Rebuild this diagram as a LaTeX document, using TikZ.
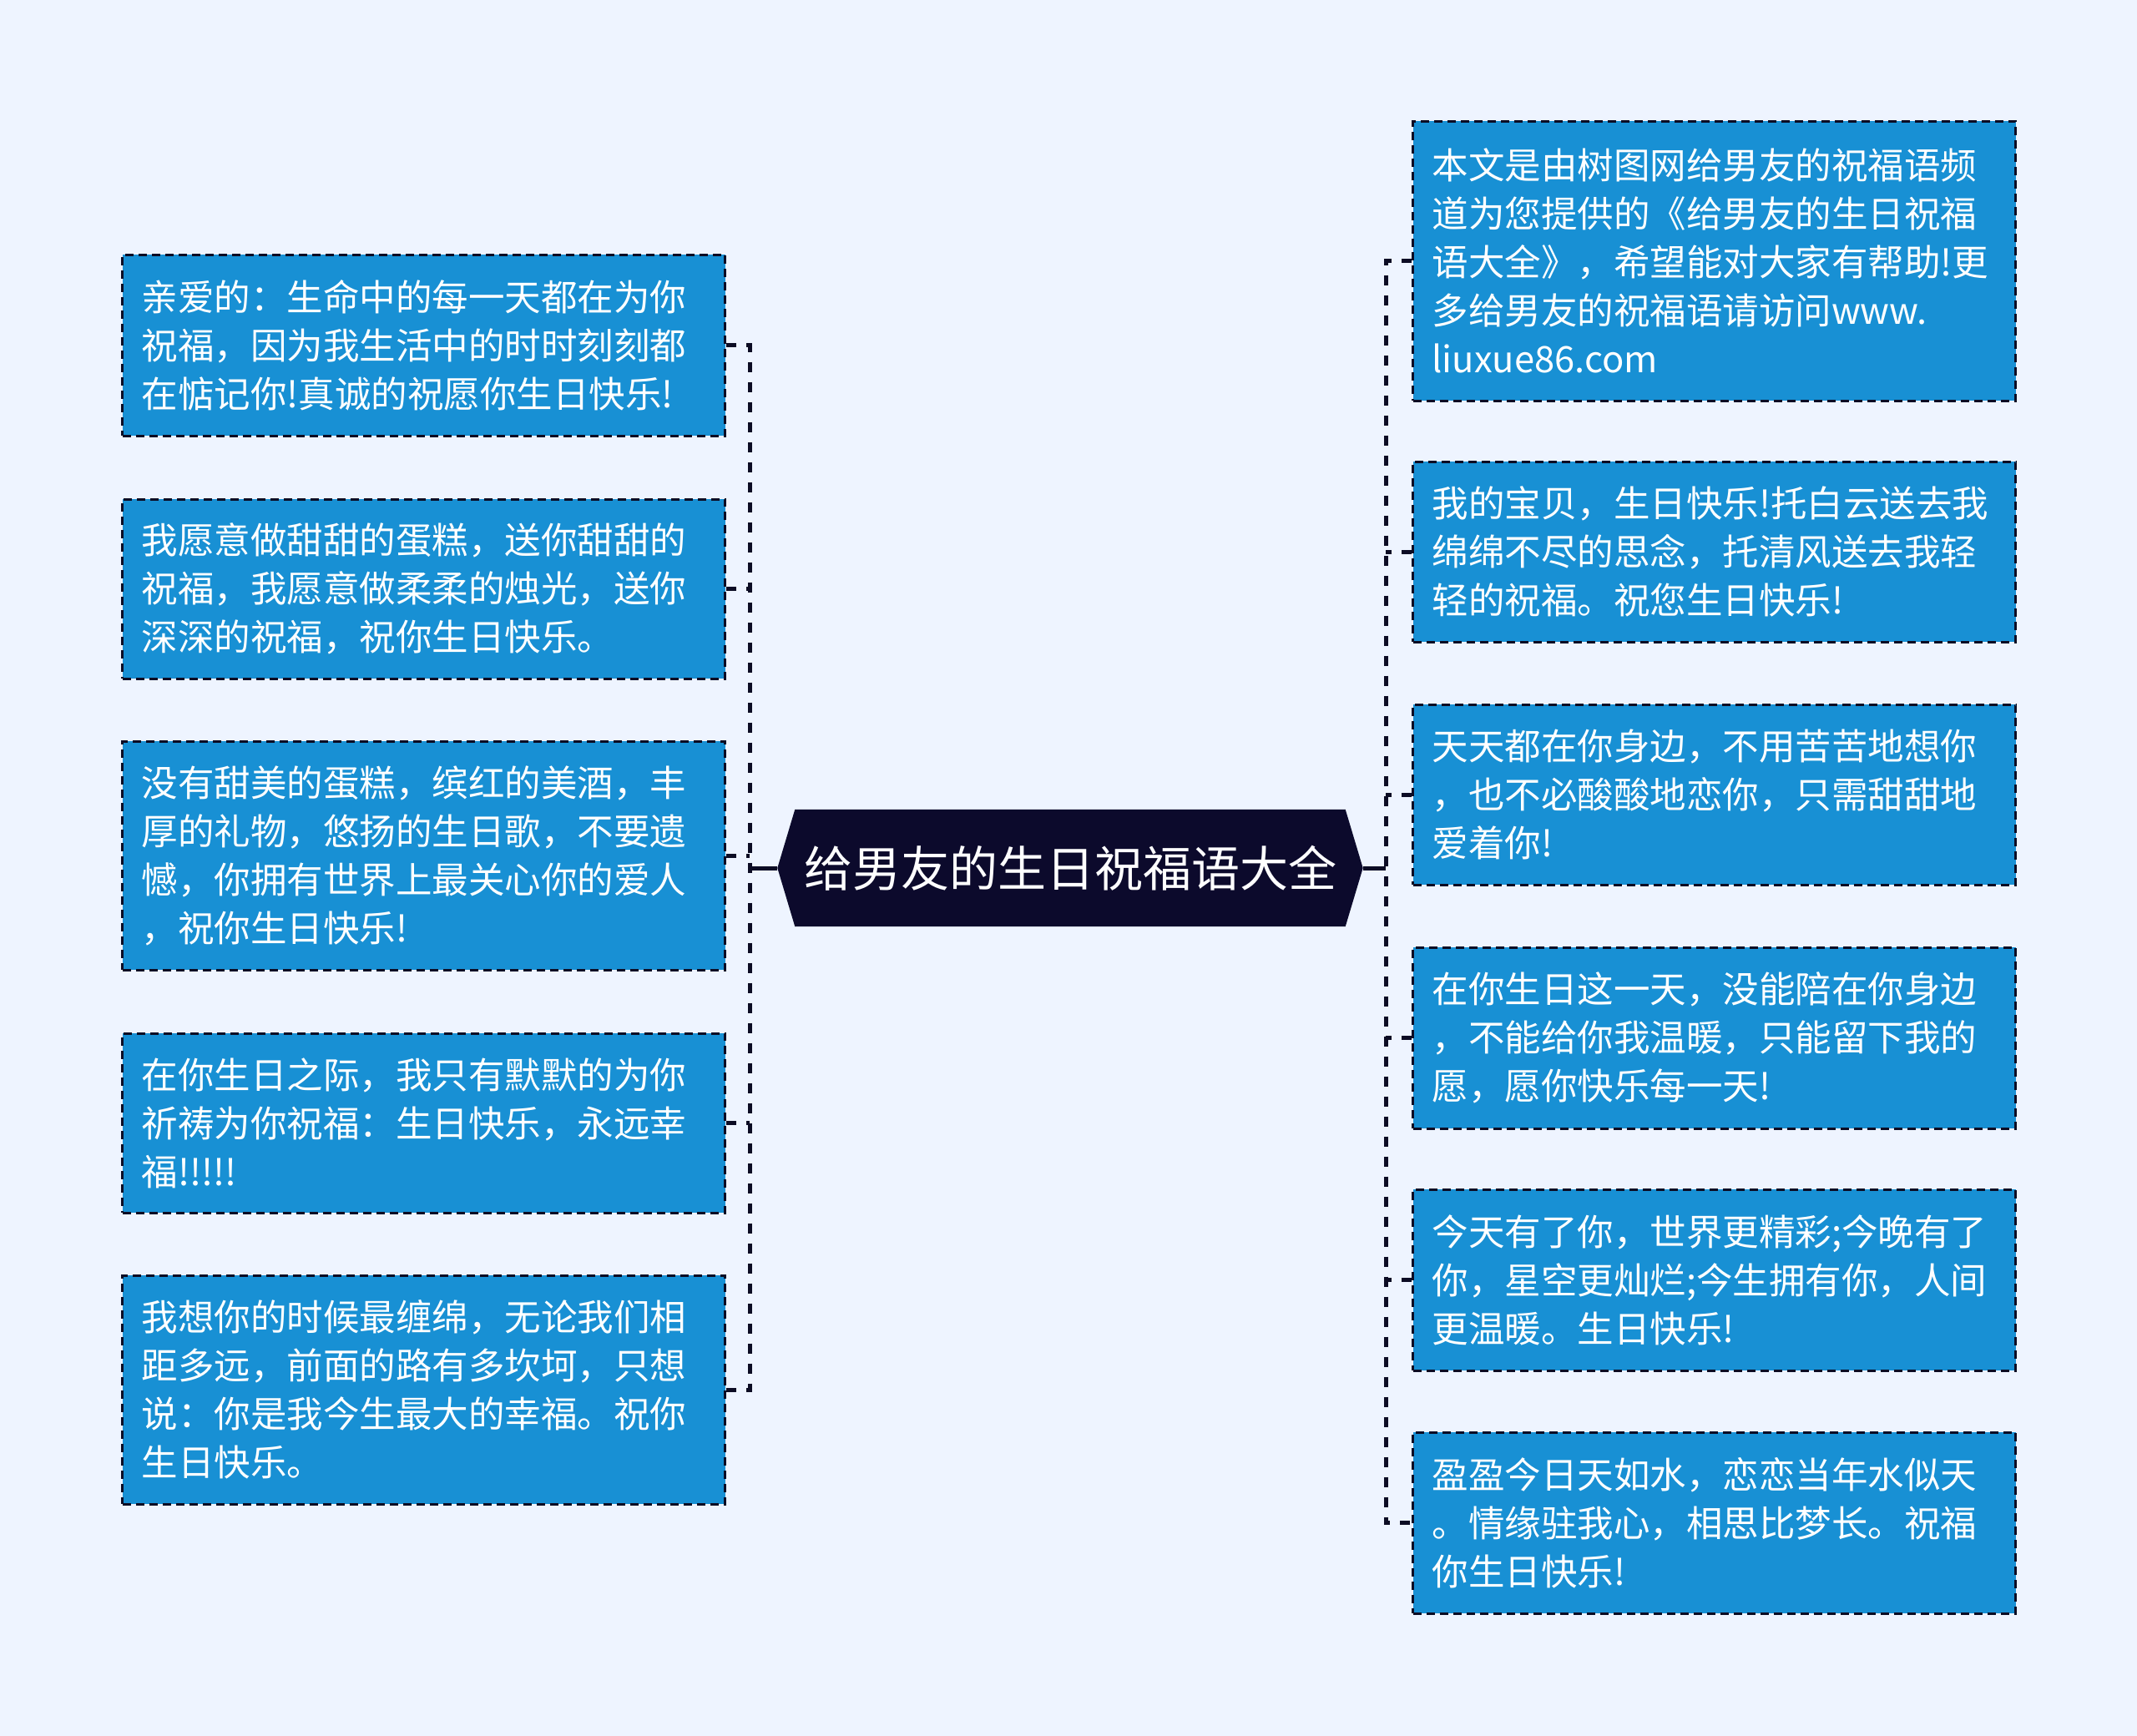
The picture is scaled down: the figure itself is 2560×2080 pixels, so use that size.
\documentclass[tikz,border=0pt]{standalone}
\usepackage{fontspec}
\setmainfont{Noto Sans CJK SC}
\usetikzlibrary{backgrounds}
\definecolor{bg}{HTML}{EEF4FF}
\definecolor{boxblue}{HTML}{1890D4}
\definecolor{navy}{HTML}{0C0A2C}
\definecolor{edge}{HTML}{0C0C24}
\begin{document}
\begin{tikzpicture}[x=1pt,y=-1pt,
  card/.style={draw=edge, line width=3pt, dash pattern=on 10pt off 6pt, fill=boxblue, text=white,
    anchor=west, text width=676pt, inner xsep=23pt, inner ysep=0pt, align=left,
    font=\fontsize{43.5}{58}\selectfont},
  conn/.style={draw=edge, line width=5pt, dash pattern=on 12pt off 12pt},
  stem/.style={draw=edge, line width=5pt}]
\useasboundingbox (0,0) rectangle (2560,2080);
\begin{scope}[on background layer]
  \fill[bg] (0,0) rectangle (2560,2080);
\end{scope}

% center
\node[text=white, font=\fontsize{58}{70}\selectfont, minimum width=659pt, minimum height=140pt, inner sep=0pt] (center) at (1282,1040) {给男友的生日祝福语大全};
\coordinate (cl) at ([xshift=-21pt]center.west);
\coordinate (cr) at ([xshift=21pt]center.east);
\begin{scope}[on background layer]
  \fill[navy] (center.north west) -- (center.north east) -- (cr) -- (center.south east) -- (center.south west) -- (cl) -- cycle;
\end{scope}

% left cards
\node[card, minimum height=217pt] (L1) at (145,413.5) {亲爱的：生命中的每一天都在为你\\祝福，因为我生活中的时时刻刻都\\在惦记你!真诚的祝愿你生日快乐!};
\node[card, minimum height=215pt] (L2) at (145,705.5) {我愿意做甜甜的蛋糕，送你甜甜的\\祝福，我愿意做柔柔的烛光，送你\\深深的祝福，祝你生日快乐。};
\node[card, minimum height=274pt] (L3) at (145,1025) {没有甜美的蛋糕，缤红的美酒，丰\\厚的礼物，悠扬的生日歌，不要遗\\憾，你拥有世界上最关心你的爱人\\，祝你生日快乐!};
\node[card, minimum height=215pt] (L4) at (145,1345.5) {在你生日之际，我只有默默的为你\\祈祷为你祝福：生日快乐，永远幸\\福!!!!!};
\node[card, minimum height=274pt] (L5) at (145,1665) {我想你的时候最缠绵，无论我们相\\距多远，前面的路有多坎坷，只想\\说：你是我今生最大的幸福。祝你\\生日快乐。};

% right cards
\node[card, minimum height=335pt] (R1) at (1691,312.5) {本文是由树图网给男友的祝福语频\\道为您提供的《给男友的生日祝福\\语大全》，希望能对大家有帮助!更\\多给男友的祝福语请访问www.\\liuxue86.com};
\node[card, minimum height=216pt] (R2) at (1691,661) {我的宝贝，生日快乐!托白云送去我\\绵绵不尽的思念，托清风送去我轻\\轻的祝福。祝您生日快乐!};
\node[card, minimum height=216pt] (R3) at (1691,952) {天天都在你身边，不用苦苦地想你\\，也不必酸酸地恋你，只需甜甜地\\爱着你!};
\node[card, minimum height=217pt] (R4) at (1691,1243.5) {在你生日这一天，没能陪在你身边\\，不能给你我温暖，只能留下我的\\愿，愿你快乐每一天!};
\node[card, minimum height=217pt] (R5) at (1691,1533.5) {今天有了你，世界更精彩;今晚有了\\你，星空更灿烂;今生拥有你，人间\\更温暖。生日快乐!};
\node[card, minimum height=217pt] (R6) at (1691,1824.5) {盈盈今日天如水，恋恋当年水似天\\。情缘驻我心，相思比梦长。祝福\\你生日快乐!};

% connectors
\coordinate (lt) at (898,1040);
\coordinate (rt) at (1660,1040);
\draw[stem] (cl) -- (lt);
\draw[stem] (cr) -- (rt);
\draw[conn] (L1.east) -- (L1.east -| lt) -- (L5.east -| lt) -- (L5.east);
\foreach \n in {L2,L3,L4} \draw[conn] (\n.east) -- (\n.east -| lt);
\draw[conn] (R1.west) -- (R1.west -| rt) -- (R6.west -| rt) -- (R6.west);
\foreach \n in {R2,R3,R4,R5} \draw[conn] (\n.west) -- (\n.west -| rt);
\end{tikzpicture}
\end{document}
